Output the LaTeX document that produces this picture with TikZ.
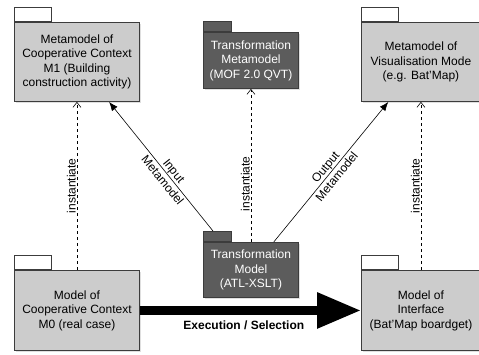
\documentclass[tikz,border=0pt]{standalone}
\usepackage{fontspec}
\setmainfont{Liberation Sans}
\usetikzlibrary{arrows.meta,shadows}

\definecolor{pkgfill}{RGB}{204,204,204}
\definecolor{pkgdark}{RGB}{92,92,92}
\definecolor{pkgline}{RGB}{60,60,60}

\tikzstyle{every node}=[font=\fontsize{12}{14.5}\selectfont]
\tikzstyle{package}=[rectangle, draw=pkgline, line width=0.9pt, fill=pkgfill, align=center, inner sep=0pt, anchor=north west, drop shadow={opacity=0.25, shadow xshift=1.5pt, shadow yshift=-1.5pt}]
\tikzstyle{darkpackage}=[package, fill=pkgdark, text=white]
\tikzstyle{tab}=[rectangle, draw=pkgline, line width=0.9pt, fill=white, inner sep=0pt, anchor=south west, minimum width=37pt, minimum height=14pt]
\tikzstyle{darktab}=[tab, fill=pkgdark, minimum width=28pt, minimum height=10pt]
\tikzstyle{instantiate}=[draw, dashed, line width=0.6pt, -{Straight Barb[length=5pt,width=8pt]}]
\tikzstyle{metamodel}=[draw, line width=0.6pt, -{Latex[length=9pt,width=7pt]}]
\tikzstyle{flow}=[draw, line width=9pt, -{Triangle[length=44pt,width=34pt]}]

\begin{document}
\begin{tikzpicture}[x=1pt, y=-1pt]
    \useasboundingbox (0,0) rectangle (479,354);
    % metamodels
    \node[package, minimum width=125pt, minimum height=79pt] (m1) at (14,22) {Metamodel of\\Cooperative Context\\M1 (Building\\construction activity)};
    \node[tab] (m1tab) at (m1.north west) {};
    \node[darkpackage, minimum width=95pt, minimum height=56pt] (mt) at (203,32) {Transformation\\Metamodel\\(MOF 2.0 QVT)};
    \node[darktab] (mttab) at (mt.north west) {};
    \node[package, minimum width=119pt, minimum height=79pt] (vm) at (361,22) {Metamodel of\\Visualisation Mode\\(e.g. Bat'Map)};
    \node[tab] (vmtab) at (vm.north west) {};
    % models
    \node[package, minimum width=125pt, minimum height=80pt] (m0) at (14,270) {Model of\\Cooperative Context\\M0 (real case)};
    \node[tab] (m0tab) at (m0.north west) {};
    \node[darkpackage, minimum width=95pt, minimum height=55pt] (tm) at (203,242) {Transformation\\Model\\(ATL-XSLT)};
    \node[darktab] (tmtab) at (tm.north west) {};
    \node[package, minimum width=119pt, minimum height=80pt] (im) at (361,270) {Model of\\Interface\\(Bat'Map boardget)};
    \node[tab] (imtab) at (im.north west) {};
    \path
    (m0) edge[instantiate] node[sloped, above, inner sep=1pt] {instantiate} (m1)
    (tm) edge[instantiate] node[sloped, above, inner sep=1pt, pos=0.38] {instantiate} (mt)
    (im) edge[instantiate] node[sloped, above, inner sep=1pt] {instantiate} (vm)
    (tmtab) edge[metamodel] node[sloped, pos=0.43, align=center] {Input\\Metamodel} (m1)
    (tm) edge[metamodel] node[sloped, pos=0.5, align=center] {Output\\Metamodel} (vm)
    (m0) edge[flow] node[below=6pt, inner sep=0pt, pos=0.47, font=\fontsize{12}{14.5}\selectfont\bfseries] {Execution / Selection} (im)
	;
\end{tikzpicture}
\end{document}
